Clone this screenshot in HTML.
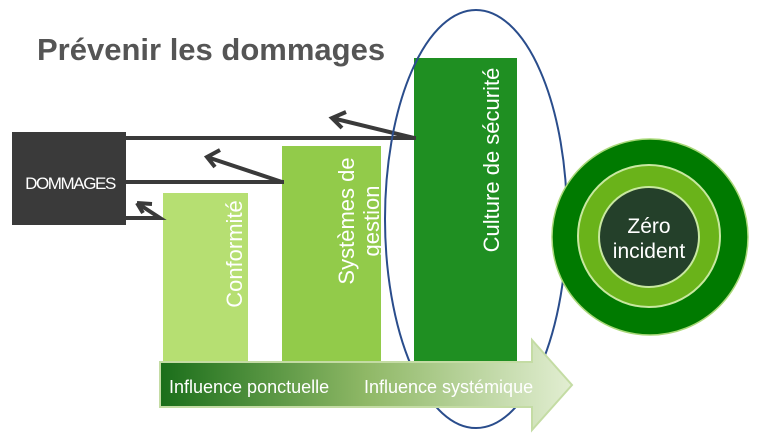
<!DOCTYPE html>
<html><head><meta charset="utf-8"><style>
body{margin:0;width:768px;height:438px;background:#fff;overflow:hidden;font-family:"Liberation Sans",sans-serif}
</style></head><body>
<svg width="768" height="438" viewBox="0 0 768 438" xmlns="http://www.w3.org/2000/svg" font-family="Liberation Sans, sans-serif">
<defs>
<linearGradient id="g" x1="0" x2="1" y1="0" y2="0">
<stop offset="0" stop-color="#1a6e1a"/><stop offset="0.5" stop-color="#8fb866"/><stop offset="1" stop-color="#e2eed2"/>
</linearGradient>
</defs>
<text x="37" y="60" font-size="31" font-weight="bold" fill="#555">Prévenir les dommages</text>
<rect x="12" y="132" width="114" height="93" fill="#3a3a3a"/>
<text x="70" y="189" font-size="17" fill="#fff" text-anchor="middle" letter-spacing="-1.4">DOMMAGES</text>
<rect x="163" y="193" width="85" height="172" fill="#b6df72"/>
<rect x="282" y="146" width="99" height="219" fill="#92cb4a"/>
<rect x="414" y="58" width="103" height="307" fill="#1f8f22"/>
<g stroke="#3a3a3a" stroke-width="4" fill="none">
<line x1="126" y1="138" x2="416" y2="138"/>
<polyline points="414,138 332,118"/><polyline points="346,112 332,118 342,128"/>
<line x1="126" y1="182" x2="284" y2="182"/>
<polyline points="282,182 207,157"/><polyline points="220,150 207,157 215,167"/>
<polyline points="126,218 160,218 137,203"/><polyline points="137,203 152,204"/><polyline points="137,203 143,213"/>
</g>
<g fill="#fff" font-size="22">
<text transform="translate(242,254) rotate(-90)" text-anchor="middle">Conformité</text>
<text transform="translate(354,221) rotate(-90)" text-anchor="middle">Systèmes de</text>
<text transform="translate(379,221) rotate(-90)" text-anchor="middle">gestion</text>
<text transform="translate(499,160) rotate(-90)" text-anchor="middle">Culture de sécurité</text>
</g>
<ellipse cx="476" cy="219" rx="91" ry="209" fill="none" stroke="#2a4d8c" stroke-width="2"/>
<polygon points="160,362 532,362 532,340 572,385 532,430 532,407 160,407" fill="url(#g)" stroke="#c4dca4" stroke-width="2"/>
<text x="169" y="393" font-size="18" fill="#fff">Influence ponctuelle</text>
<text x="364" y="393" font-size="18" fill="#fff">Influence systémique</text>
<circle cx="650" cy="237" r="98" fill="#007a00" stroke="#a8d878" stroke-width="1.5"/>
<circle cx="649" cy="236" r="71" fill="#6ab31a" stroke="#c8e8a0" stroke-width="2"/>
<circle cx="649" cy="237" r="50" fill="#24402a" stroke="#c8e8a0" stroke-width="2"/>
<text x="649" y="233" font-size="21" fill="#fff" text-anchor="middle">Zéro</text>
<text x="649" y="258" font-size="21" fill="#fff" text-anchor="middle">incident</text>
</svg>
</body></html>
